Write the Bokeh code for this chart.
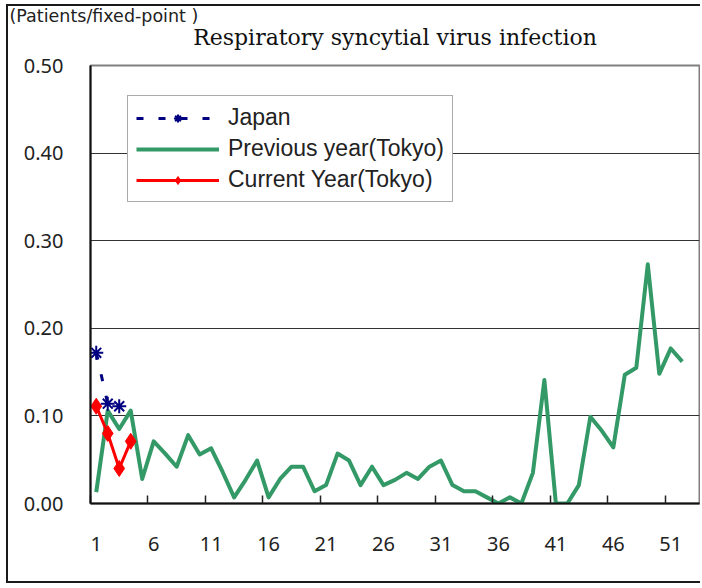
from bokeh.plotting import figure
from bokeh.models import (Range1d, FixedTicker, Legend, LegendItem, Title,
                          NumeralTickFormatter)
from bokeh.embed import file_html
from bokeh.resources import INLINE

# ---- data ----
weeks_prev = list(range(1, 53))
prev_tokyo = [0.013, 0.106, 0.085, 0.106, 0.028, 0.071, 0.057, 0.042, 0.078, 0.056,
              0.063, 0.036, 0.007, 0.027, 0.049, 0.007, 0.028, 0.042, 0.042, 0.014,
              0.021, 0.057, 0.049, 0.021, 0.042, 0.021, 0.027, 0.035, 0.028, 0.042,
              0.049, 0.021, 0.014, 0.014, 0.007, 0.000, 0.007, 0.000, 0.035, 0.141,
              0.000, 0.000, 0.021, 0.099, 0.083, 0.064, 0.147, 0.155, 0.273, 0.148,
              0.177, 0.162]
weeks_cur = [1, 2, 3, 4]
cur_tokyo = [0.111, 0.080, 0.040, 0.071]
weeks_japan = [1, 2, 3]
japan = [0.172, 0.114, 0.111]
x_tick_labels = [1, 6, 11, 16, 21, 26, 31, 36, 41, 46, 51]
y_ticks = [0.0, 0.1, 0.2, 0.3, 0.4, 0.5]
title_text = "Respiratory syncytial virus infection"
unit_text = "(Patients/fixed-point )"
names = ["Japan", "Previous year(Tokyo)", "Current Year(Tokyo)"]

W, H = 694, 579
p = figure(width=W, height=H, x_range=Range1d(0.5, 53.5), y_range=Range1d(0, 0.5),
           output_backend="svg", toolbar_location=None,
           min_border_left=82, min_border_right=3, min_border_top=59, min_border_bottom=82)
p.styles = {"margin-left": "6px", "margin-top": "4px",
            "border-left": "2px solid #1a1a1a", "border-top": "2px solid #1a1a1a",
            "border-bottom": "2px solid #1a1a1a"}
p.background_fill_color = "white"
p.border_fill_color = "white"
p.outline_line_color = "#808080"
p.outline_line_width = 2

# titles: unit text on the outer row, chart title next to the frame
p.title.text = unit_text
p.title.align = "left"
p.title.offset = -81
p.title.text_font = "DejaVu Sans"
p.title.text_font_size = "17.5px"
p.title.text_font_style = "normal"
p.title.text_color = "#222222"
p.title.standoff = -38
p.add_layout(Title(text=title_text, align="center", text_font="DejaVu Serif",
                   text_font_size="22px", text_font_style="normal", text_color="#111111",
                   standoff=32), "above")

# axes
xa = p.xaxis[0]
xa.ticker = FixedTicker(ticks=x_tick_labels, minor_ticks=[t - 0.5 for t in x_tick_labels])
xa.major_tick_in = 0
xa.major_tick_out = 0
xa.minor_tick_in = 8
xa.minor_tick_out = 0
xa.minor_tick_line_color = "#222222"
xa.minor_tick_line_width = 1.5
xa.axis_line_color = "#111111"
xa.axis_line_width = 2
xa.major_label_standoff = 33
xa.major_label_text_font = "Noto Sans"
xa.major_label_text_font_size = "20px"
xa.major_label_text_color = "#222222"

ya = p.yaxis[0]
ya.ticker = FixedTicker(ticks=y_ticks)
ya.formatter = NumeralTickFormatter(format="0.00")
ya.major_tick_in = 0
ya.major_tick_out = 0
ya.minor_tick_line_color = None
ya.axis_line_color = "#111111"
ya.axis_line_width = 2
ya.major_label_standoff = 27
ya.major_label_text_font = "Noto Sans"
ya.major_label_text_font_size = "20px"
ya.major_label_text_color = "#222222"

p.xgrid.visible = False
p.ygrid.ticker = FixedTicker(ticks=y_ticks)
p.ygrid.grid_line_color = "#333333"
p.ygrid.grid_line_width = 1

# series
r_prev = p.line(weeks_prev, prev_tokyo, line_color="#339966", line_width=4, line_join="round")
r_cur = p.line(weeks_cur, cur_tokyo, line_color="#ff0000", line_width=3)
r_cur_m = p.scatter(weeks_cur, cur_tokyo, marker="diamond", size=16,
                    fill_color="#ff0000", line_color="#ff0000")
r_jp = p.line(weeks_japan, japan, line_color="#000080", line_width=3, line_dash="7 15")
r_jp_m = p.scatter(weeks_japan, japan, marker="asterisk", size=14,
                   line_color="#000080", line_width=2)

legend = Legend(items=[LegendItem(label=names[0], renderers=[r_jp, r_jp_m]),
                       LegendItem(label=names[1], renderers=[r_prev]),
                       LegendItem(label=names[2], renderers=[r_cur, r_cur_m])],
                location=(37, 301))
legend.border_line_color = "#555555"
legend.border_line_width = 1.5
legend.background_fill_alpha = 1
legend.padding = 8
legend.spacing = 4
legend.margin = 0
legend.glyph_width = 83
legend.glyph_height = 20
legend.label_height = 20
legend.label_standoff = 9
legend.label_text_font = "Liberation Sans"
legend.label_text_font_size = "23px"
legend.label_text_color = "#222222"
p.add_layout(legend, "center")

open("out.html", "w").write(file_html(p, INLINE))
